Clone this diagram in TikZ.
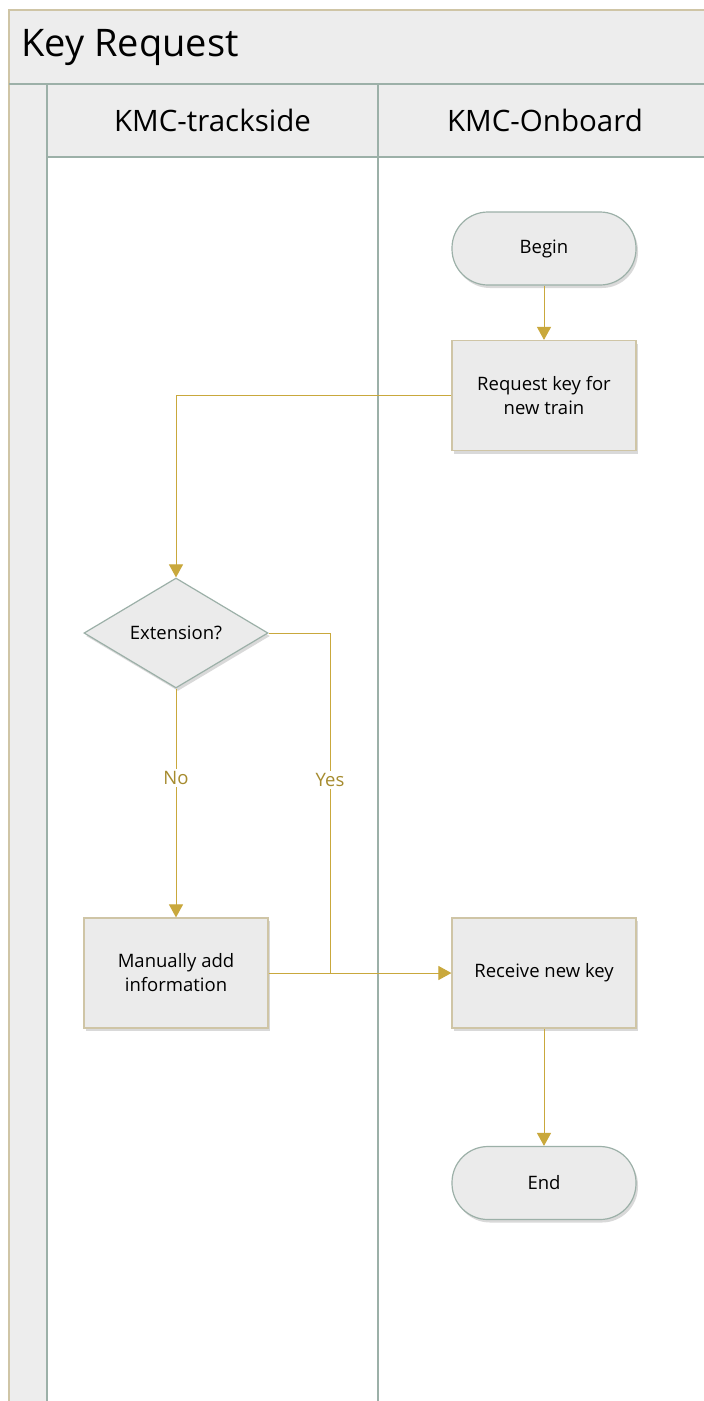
\documentclass[tikz,border=0pt]{standalone}
\usepackage{fontspec}
\setmainfont{Open Sans}
\usetikzlibrary{arrows.meta,shapes.geometric,shadows}
\definecolor{gold}{HTML}{C9A83C}
\definecolor{lbl}{HTML}{A68B2E}
\definecolor{boxfill}{HTML}{EBEBEB}
\definecolor{tan}{HTML}{CFC5A6}
\definecolor{sage}{HTML}{9CB0A8}
\definecolor{hdr}{HTML}{EDEDED}
\tikzset{
  x=1pt,y=-1pt,
  nf/.style={font=\fontsize{18.5pt}{24pt}\selectfont},
  sh/.style={drop shadow={shadow xshift=2pt,shadow yshift=-3pt,opacity=0.15,fill=black}},
  procbox/.style={draw=tan,line width=1.2pt,fill=boxfill,minimum width=184pt,minimum height=110pt,align=center,nf,sh},
  term/.style={draw=sage,line width=1.2pt,fill=boxfill,rounded corners=36pt,minimum width=184pt,minimum height=73pt,nf,sh},
  dec/.style={draw=sage,line width=1.2pt,fill=boxfill,diamond,aspect=1.673,minimum width=184pt,minimum height=110pt,inner sep=0pt,nf,sh},
  conn/.style={draw=gold,line width=1pt,-{Triangle[width=14pt,length=13pt]}},
  plain/.style={draw=gold,line width=1pt},
  lab/.style={fill=white,text=lbl,nf,inner sep=2pt},
  lane/.style={draw=sage,line width=1.2pt},
}
\begin{document}
\begin{tikzpicture}
\useasboundingbox (0,0) rectangle (704,1401);
% outer frame
\fill[white] (0,0) rectangle (704,1401);
\fill[hdr] (9,10) rectangle (704,84);
\fill[hdr] (9,84) rectangle (47,1401);
\draw[tan,line width=1.2pt] (9,1401) -- (9,10) -- (704,10);
\node[anchor=west,font=\fontsize{38pt}{44pt}\selectfont] (title) at (18,47) {Key Request};
% lane headers
\fill[hdr] (47,84) rectangle (704,157);
\draw[lane] (9,84) -- (704,84);
\draw[lane] (47,157) -- (704,157);
\draw[lane] (47,84) -- (47,1401);
\draw[lane] (378,84) -- (378,1401);
\node[font=\fontsize{29.5pt}{34pt}\selectfont] (l1) at (212.5,120) {KMC-trackside};
\node[font=\fontsize{29.5pt}{34pt}\selectfont] (l2) at (545,120) {KMC-Onboard};
% nodes
\node[term] (begin) at (544,248.5) {Begin};
\node[procbox] (req) at (544,395.5) {Request key for\\new train};
\node[dec] (ext) at (176,633) {Extension?};
\node[procbox] (man) at (176,973) {Manually add\\information};
\node[procbox] (rec) at (544,973) {Receive new key};
\node[term] (end) at (544,1183) {End};
% connectors
\draw[conn] (begin) -- (req);
\draw[conn] (req.west) -| (ext.north);
\draw[conn] (ext.south) -- node[lab,pos=0.39] {No} (man.north);
\coordinate (yc) at (330,973);
\draw[plain] (ext.east) -| node[lab,pos=0.716] {Yes} (yc);
\draw[conn] (man.east) -- (rec.west);
\draw[conn] (rec) -- (end);
\end{tikzpicture}
\end{document}
